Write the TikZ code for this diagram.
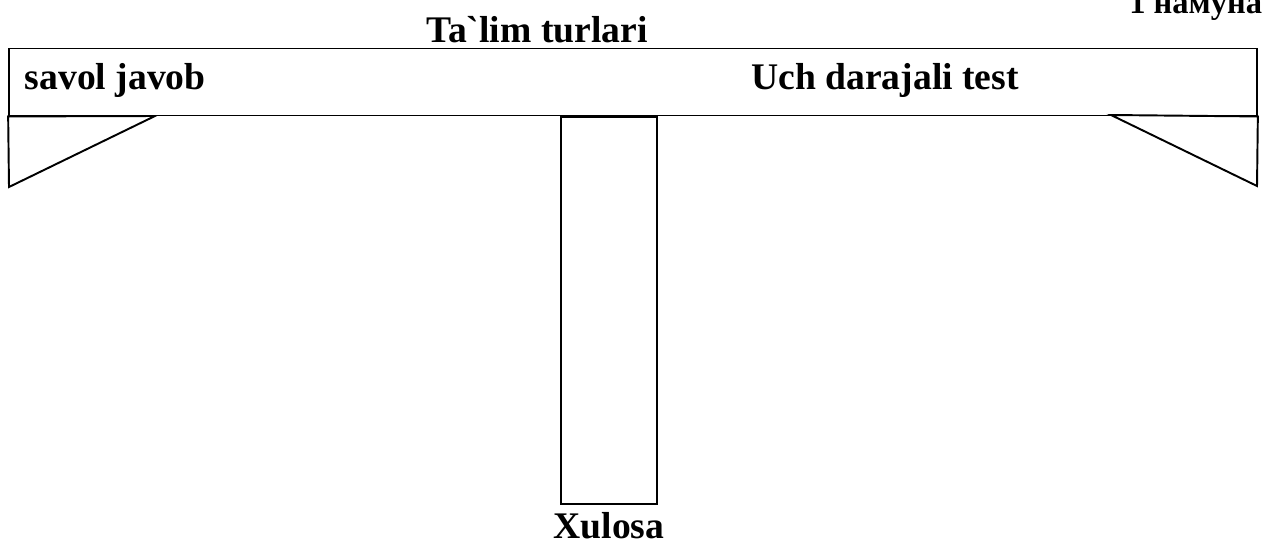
\documentclass[tikz,border=0pt]{standalone}
\usepackage{fontspec}
\setmainfont{Liberation Serif}[Ligatures=TeXOff]
\usetikzlibrary{positioning}
\tikzset{
	frame/.style={draw,line width=1.1pt,inner sep=0pt},
	label/.style={font=\fontsize{21.4}{26}\selectfont\bfseries,inner sep=0pt}
}

\begin{document}
\begin{tikzpicture}[x=0.02cm,y=-0.02cm,line width=1.1pt]
        \useasboundingbox (0,0) rectangle (1264,545);
        \node[font=\fontsize{18.5}{22}\selectfont\bfseries,inner sep=0pt,anchor=base east] (nomer) at (1263,13) {1 намуна};
        \node[label] (title) at (537,30) {Ta`lim turlari};
        \node[frame,minimum width=24.96cm,minimum height=1.34cm] (bar) at (633,82) {};
        \node[label,anchor=west] (savol) at (24,80) {savol javob};
        \node[label] (test) at (885,80) {Uch darajali test};
        \coordinate (l_top) at (155,116);
        \coordinate (r_top) at (1111,115);
        \draw (bar.south west) -- (l_top) -- (9,187) -- cycle;
        \draw (bar.south east) -- (r_top) -- (1257,186) -- cycle;
        \node[frame,minimum width=1.92cm,minimum height=7.74cm,anchor=north] (pillar) at (609,116) {};
        \node[label] (xulosa) at (609,526) {Xulosa};
    \end{tikzpicture}
\end{document}
